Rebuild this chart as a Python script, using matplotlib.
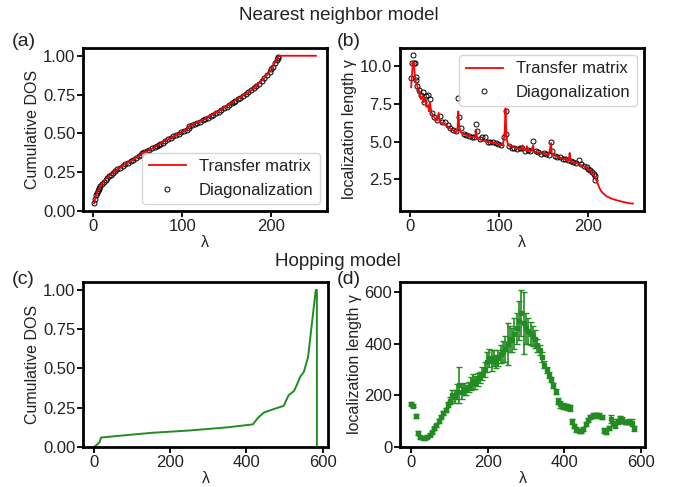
import matplotlib
matplotlib.use('Agg')
import matplotlib.pyplot as plt
import numpy as np

plt.rcParams['font.family'] = ['Liberation Sans', 'DejaVu Sans']
plt.rcParams['xtick.direction'] = 'out'
plt.rcParams['ytick.direction'] = 'out'
plt.rcParams['text.color'] = '#222222'
plt.rcParams['axes.labelcolor'] = '#222222'

GREEN = '#228b22'

# (a)/(b) nearest neighbor model: transfer matrix curves
tm_dos_lam = [1, 3, 6, 10, 15, 20, 25, 30, 35, 40, 45, 50, 55, 60, 70, 80, 90, 100,
              105, 108, 115, 125, 135, 145, 155, 160, 170, 180, 190, 195, 200, 204,
              207, 209, 250]
tm_dos = [0.05, 0.10, 0.14, 0.175, 0.21, 0.235, 0.26, 0.28, 0.30, 0.315, 0.33, 0.35,
          0.37, 0.385, 0.415, 0.45, 0.48, 0.51, 0.525, 0.545, 0.565, 0.59, 0.625,
          0.66, 0.695, 0.715, 0.75, 0.79, 0.845, 0.875, 0.915, 0.955, 0.99, 1.0, 1.0]

tm_gam_lam = [1, 2, 3, 4, 5, 6, 8, 9, 10, 12, 14, 15, 17, 18, 20, 21, 22, 24, 27, 30,
              32, 33, 36, 40, 44, 48, 51, 53, 54, 55, 57, 60, 65, 70, 73, 74, 75, 80,
              85, 90, 95, 100, 104, 106, 107, 108, 110, 115, 120, 125, 126, 127, 130,
              131, 132, 136, 138, 139, 145, 150, 155, 157, 158, 159, 165, 170, 175,
              178, 179, 180, 185, 190, 195, 200, 203, 206, 208, 210, 212, 214, 217,
              220, 225, 230, 235, 240, 245, 250]
tm_gam = [8.6, 9.4, 10.3, 10.2, 9.5, 9.0, 8.7, 8.2, 8.4, 7.8, 8.0, 7.6, 7.9, 7.3, 7.4,
          7.0, 7.6, 6.9, 6.6, 6.4, 6.9, 6.3, 6.2, 6.1, 5.9, 5.75, 5.6, 5.7, 7.0, 6.0,
          5.6, 5.5, 5.4, 5.3, 5.3, 5.75, 5.2, 5.1, 5.0, 4.95, 4.9, 4.8, 4.75, 5.5, 7.2,
          5.3, 4.75, 4.65, 4.55, 4.5, 4.75, 4.45, 4.45, 4.7, 4.4, 4.4, 4.75, 4.35,
          4.25, 4.2, 4.1, 4.5, 4.9, 4.2, 4.0, 3.9, 3.8, 3.75, 4.25, 3.7, 3.6, 3.5,
          3.35, 3.2, 3.0, 2.8, 2.6, 2.3, 2.0, 1.75, 1.55, 1.4, 1.25, 1.15, 1.07, 1.0,
          0.93, 0.9]

# diagonalization (eigenvalues, cumulative DOS, localization length)
diag_lam = [1, 2, 3, 4, 5, 6, 7, 8, 10, 12, 14, 16, 18, 20, 22, 24, 27, 30, 33, 36,
            39, 42, 45, 48, 51, 54, 55, 57, 60, 63, 66, 69, 72, 74, 75, 78, 81, 84,
            87, 90, 93, 96, 99, 102, 105, 107, 108, 111, 114, 117, 120, 123, 126,
            129, 132, 135, 138, 141, 144, 147, 150, 153, 156, 158, 159, 162, 165,
            168, 171, 174, 177, 180, 183, 186, 189, 192, 195, 198, 200, 202, 204,
            206, 207, 208]
diag_dos = [0.05, 0.075, 0.10, 0.115, 0.13, 0.14, 0.15, 0.158, 0.175, 0.19, 0.20,
            0.215, 0.225, 0.235, 0.245, 0.255, 0.268, 0.28, 0.292, 0.303, 0.312,
            0.322, 0.33, 0.342, 0.355, 0.362, 0.372, 0.378, 0.385, 0.394, 0.403,
            0.412, 0.42, 0.426, 0.43, 0.44, 0.452, 0.462, 0.47, 0.48, 0.488, 0.497,
            0.506, 0.515, 0.522, 0.535, 0.545, 0.552, 0.56, 0.567, 0.575, 0.583,
            0.592, 0.60, 0.61, 0.62, 0.63, 0.64, 0.652, 0.662, 0.672, 0.683, 0.695,
            0.705, 0.71, 0.72, 0.73, 0.742, 0.753, 0.765, 0.777, 0.79, 0.805, 0.82,
            0.838, 0.856, 0.875, 0.895, 0.915, 0.93, 0.952, 0.97, 0.985, 0.995]
diag_gam = [9.2, 10.2, 10.7, 10.2, 10.2, 9.3, 9.1, 8.7, 8.4, 8.1, 8.3, 7.6, 8.0, 8.1,
            7.8, 6.9, 6.6, 6.4, 6.7, 6.3, 6.3, 6.1, 5.9, 5.8, 5.7, 7.9, 6.6, 5.9, 5.5,
            5.45, 5.4, 5.3, 5.3, 6.15, 5.7, 5.2, 5.3, 5.3, 5.0, 4.95, 5.0, 4.9, 4.85,
            4.8, 5.3, 7.0, 5.5, 4.7, 4.6, 4.6, 4.5, 4.55, 4.6, 4.4, 4.45, 4.4, 5.05,
            4.35, 4.3, 4.2, 4.25, 4.15, 4.1, 4.95, 4.4, 4.05, 4.0, 3.95, 3.85, 3.85,
            3.75, 3.7, 3.65, 3.6, 3.75, 3.5, 3.4, 3.3, 3.2, 3.1, 3.0, 2.85, 2.7, 2.45]

# (c) hopping model cumulative DOS
hop_dos_lam = [0, 5, 10, 15, 18, 60, 150, 250, 350, 417, 430, 445, 470, 498, 505, 511,
               525, 535, 542, 551, 562, 573, 582, 585, 585]
hop_dos = [0.0, 0.01, 0.02, 0.035, 0.06, 0.07, 0.09, 0.105, 0.125, 0.144, 0.185,
           0.218, 0.24, 0.262, 0.30, 0.33, 0.356, 0.41, 0.45, 0.479, 0.574, 0.807,
           0.998, 1.0, 0.0]

# (d) hopping model localization length with errors
hop_lam = list(range(0, 583, 6))
hop_gam = [168, 160, 120, 55, 38, 35, 36, 40, 48, 58, 72, 85, 100, 118, 132, 145, 165,
           180, 200, 195, 215, 240, 215, 225, 222, 232, 245, 255, 250, 262, 270, 285,
           300, 330, 345, 335, 345, 330, 345, 360, 370, 380, 400, 420, 415, 440, 460,
           490, 520, 480, 460, 450, 440, 430, 420, 395, 375, 350, 320, 300, 280, 262,
           240, 215, 180, 165, 160, 158, 155, 150, 100, 80, 68, 64, 62, 70, 90, 105,
           115, 122, 125, 124, 122, 118, 65, 60, 75, 108, 95, 85, 100, 112, 105, 98,
           96, 98, 95, 72]
hop_err = [6, 6, 8, 8, 6, 5, 5, 5, 5, 6, 6, 6, 7, 7, 8, 8, 10, 15, 20, 25, 30, 70, 30,
           25, 20, 20, 25, 30, 25, 25, 20, 25, 30, 40, 35, 40, 30, 25, 30, 35, 40, 50,
           80, 50, 45, 60, 60, 75, 90, 120, 60, 50, 45, 40, 35, 25, 20, 20, 15, 12, 12,
           10, 10, 10, 12, 15, 12, 10, 12, 12, 10, 8, 8, 6, 6, 6, 8, 8, 8, 8, 8, 8, 8,
           8, 10, 8, 8, 15, 15, 10, 10, 10, 10, 8, 8, 10, 12, 10]


def style_axes(ax):
    for sp in ax.spines.values():
        sp.set_linewidth(2.0)
        sp.set_color('black')
    ax.tick_params(labelsize=12, width=1.3, length=4, pad=1.5,
                   color='black', labelcolor='#222222')


W, H = 678, 487
fig = plt.figure(figsize=(W / 100, H / 100), dpi=100)

ax_a = fig.add_axes([83 / W, 1 - 211 / H, 244 / W, 163 / H])
ax_b = fig.add_axes([400 / W, 1 - 211 / H, 244 / W, 163 / H])
ax_c = fig.add_axes([83 / W, 1 - 447 / H, 245 / W, 165 / H])
ax_d = fig.add_axes([400 / W, 1 - 447 / H, 245 / W, 165 / H])

LBL = 11.5
circ = dict(ms=3.6, mfc='none', mec='black', mew=0.7, zorder=2)

# (a)
ax_a.plot(tm_dos_lam, tm_dos, color='red', lw=1.3, label='Transfer matrix', zorder=3)
ax_a.plot(diag_lam, diag_dos, 'o', label='Diagonalization', **circ)
ax_a.set_ylim(0, 1.05)
ax_a.set_yticks([0, 0.25, 0.5, 0.75, 1.0])
ax_a.set_xticks([0, 100, 200])
ax_a.set_xlabel('λ', fontsize=LBL, labelpad=1)
ax_a.set_ylabel('Cumulative DOS', fontsize=LBL, labelpad=2)
ax_a.legend(loc='lower right', fontsize=12, handlelength=2.2, borderaxespad=0.4)

# (b)
ax_b.plot(tm_gam_lam, tm_gam, color='red', lw=1.3, label='Transfer matrix', zorder=3)
ax_b.plot(diag_lam, diag_gam, 'o', label='Diagonalization', **circ)
ax_b.set_yticks([2.5, 5.0, 7.5, 10.0])
ax_b.set_xticks([0, 100, 200])
ax_b.set_xlabel('λ', fontsize=LBL, labelpad=1)
ax_b.set_ylabel('localization length γ', fontsize=LBL, labelpad=2)
ax_b.legend(loc='upper right', fontsize=12, handlelength=2.2, borderaxespad=0.4)

# (c)
ax_c.plot(hop_dos_lam, hop_dos, color=GREEN, lw=1.4)
ax_c.set_ylim(0, 1.05)
ax_c.set_yticks([0, 0.25, 0.5, 0.75, 1.0])
ax_c.set_xticks([0, 200, 400, 600])
ax_c.set_xlabel('λ', fontsize=LBL, labelpad=1)
ax_c.set_ylabel('Cumulative DOS', fontsize=LBL, labelpad=2)

# (d)
ax_d.errorbar(hop_lam, hop_gam, yerr=hop_err, fmt='s', ms=3, color=GREEN,
              ecolor=GREEN, elinewidth=1.2, capsize=2.5, capthick=1.0)
ax_d.set_ylim(0, 640)
ax_d.set_yticks([0, 200, 400, 600])
ax_d.set_xticks([0, 200, 400, 600])
ax_d.set_xlabel('λ', fontsize=LBL, labelpad=1)
ax_d.set_ylabel('localization length γ', fontsize=LBL, labelpad=2)

for ax in (ax_a, ax_b, ax_c, ax_d):
    style_axes(ax)

fig.text(0.5, 1 - 15 / H, 'Nearest neighbor model', ha='center', va='center', fontsize=13.5)
fig.text(0.499, 1 - 261 / H, 'Hopping model', ha='center', va='center', fontsize=13.5)
fig.text(12 / W, 1 - 42 / H, '(a)', ha='left', va='center', fontsize=14)
fig.text(337 / W, 1 - 42 / H, '(b)', ha='left', va='center', fontsize=14)
fig.text(12 / W, 1 - 279 / H, '(c)', ha='left', va='center', fontsize=14)
fig.text(337 / W, 1 - 279 / H, '(d)', ha='left', va='center', fontsize=14)

fig.savefig('out.png', dpi=100)
